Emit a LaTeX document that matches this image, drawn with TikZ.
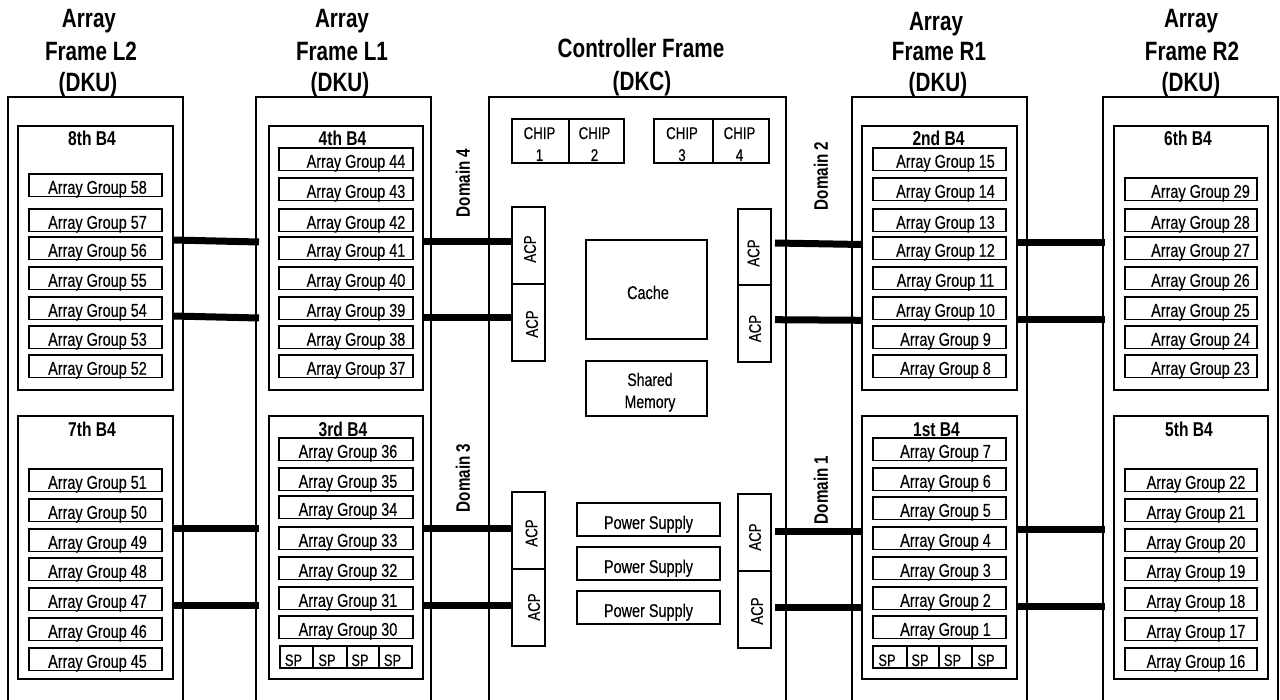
\documentclass[tikz,border=0pt]{standalone}
\usepackage{fontspec}
\setmainfont{Liberation Sans}[FakeStretch=0.78,UprightFeatures={FakeBold=0.35}]
\usetikzlibrary{calc}
\newcommand\fs[1]{\fontsize{#1}{#1}\selectfont}
\newcommand\bx[6]{\node[#6,minimum width={(#4)-(#2)},minimum height={(#5)-(#3)}] (#1) at ({((#2)+(#4))/2},{((#3)+(#5))/2})}
\newcommand\AG[5]{\bx{g#1}{#2}{#3}{#4}{(#3)+22.5}{ag}{\hspace*{#5pt}Array Group #1};}
\begin{document}
\begin{tikzpicture}[x=1pt,y=-1pt,line width=1.2pt,
  box/.style={draw,rectangle,inner sep=0pt,outer sep=0pt,line width=1.2pt},
  ag/.style={box,font=\fs{18.5},text height=17pt,text depth=0pt},
  spc/.style={box,font=\fs{16.5},text height=18pt,text depth=0pt},
  psb/.style={box,font=\fs{18.5},text height=19pt,text depth=0pt},
  bus/.style={line width=7pt},
  ttl/.style={font=\bfseries\fs{26.5},anchor=base,inner sep=0pt},
  b4l/.style={font=\bfseries\fs{20},anchor=base,inner sep=0pt},
  dom/.style={font=\bfseries\fs{19.5},rotate=90,inner sep=0pt},
  acpt/.style={font=\fs{17},rotate=90,inner sep=0pt},
  lbl/.style={font=\fs{18},anchor=base,inner sep=0pt},
  chipt/.style={font=\fs{17},anchor=base,inner sep=0pt}]
\useasboundingbox (0,0) rectangle (1280,700);
\fill[white] (0,0) rectangle (1280,700);
\clip (0,0) rectangle (1280,700);

% titles
\node[ttl] (tL2a) at (89,28) {Array};
\node[ttl] (tL2b) at (91,61) {Frame L2};
\node[ttl] (tL2c) at (88,92) {(DKU)};
\node[ttl] (tL1a) at (342,28) {Array};
\node[ttl] (tL1b) at (342,61) {Frame L1};
\node[ttl] (tL1c) at (340,92) {(DKU)};
\node[ttl] (tCa) at (641,58) {Controller Frame};
\node[ttl] (tCb) at (642,91) {(DKC)};
\node[ttl] (tR1a) at (936,31) {Array};
\node[ttl] (tR1b) at (939,61) {Frame R1};
\node[ttl] (tR1c) at (938,92) {(DKU)};
\node[ttl] (tR2a) at (1191,28) {Array};
\node[ttl] (tR2b) at (1192,61) {Frame R2};
\node[ttl] (tR2c) at (1191,92) {(DKU)};

% frames
\bx{fL2}{8}{97}{183}{720}{box}{};
\bx{fL1}{256}{97}{431}{720}{box}{};
\bx{fC}{489}{97}{786}{720}{box}{};
\bx{fR1}{852}{97}{1027}{720}{box}{};
\bx{fR2}{1103}{97}{1278}{720}{box}{};

% B4 boxes
\bx{b8}{18}{126}{173}{390}{box}{};
\bx{b7}{18}{416}{173}{679}{box}{};
\bx{b4}{269}{126}{423}{390}{box}{};
\bx{b3}{269}{416}{423}{679}{box}{};
\bx{b2}{862}{126}{1017}{390}{box}{};
\bx{b1}{862}{416}{1017}{679}{box}{};
\bx{b6}{1114}{126}{1268}{390}{box}{};
\bx{b5}{1114}{416}{1268}{679}{box}{};

\node[b4l] (l8) at (92,146) {8th B4};
\node[b4l] (l4) at (342.5,146) {4th B4};
\node[b4l] (l2) at (938.5,146) {2nd B4};
\node[b4l] (l6) at (1188,146) {6th B4};
\node[b4l] (l7) at (92,436) {7th B4};
\node[b4l] (l3) at (343,436) {3rd B4};
\node[b4l] (l1) at (936.5,436) {1st B4};
\node[b4l] (l5) at (1189,436) {5th B4};

% array groups
\foreach \n/\y in {58/174,57/209,56/237,55/267,54/297,53/326,52/355,
                   51/469,50/499,49/529,48/558,47/588,46/618,45/648}
  {\AG{\n}{29}{\y}{162}{4}}
\foreach \n/\y in {44/148,43/178,42/209,41/237,40/267,39/297,38/326,37/355}
  {\AG{\n}{279}{\y}{413}{20}}
\foreach \n/\y in {36/438,35/468,34/496,33/527,32/557,31/587,30/616}
  {\AG{\n}{279}{\y}{413}{4}}
\foreach \n/\y in {15/148,14/178,13/209,12/237,11/267,10/297,9/326,8/355,
                   7/438,6/468,5/497,4/527,3/557,2/587,1/616}
  {\AG{\n}{873}{\y}{1006}{12}}
\foreach \n/\y in {29/178,28/209,27/237,26/267,25/297,24/326,23/355}
  {\AG{\n}{1125}{\y}{1257}{19}}
\foreach \n/\y in {22/469,21/499,20/529,19/558,18/588,17/618,16/648}
  {\AG{\n}{1125}{\y}{1257}{10}}

% SP cells
\bx{spL1}{280}{646}{313}{668}{spc}{SP\hspace*{6pt}};
\bx{spL2}{313}{646}{347}{668}{spc}{SP\hspace*{6pt}};
\bx{spL3}{347}{646}{379}{668}{spc}{SP\hspace*{6pt}};
\bx{spL4}{379}{646}{412}{668}{spc}{SP\hspace*{6pt}};
\bx{spR1}{873}{646}{907}{668}{spc}{SP\hspace*{6pt}};
\bx{spR2}{907}{646}{939}{668}{spc}{SP\hspace*{6pt}};
\bx{spR3}{939}{646}{972}{668}{spc}{SP\hspace*{6pt}};
\bx{spR4}{972}{646}{1006}{668}{spc}{SP\hspace*{6pt}};

% chips
\bx{c1}{512}{119}{569}{163}{box}{};
\bx{c2}{569}{119}{624}{163}{box}{};
\bx{c3}{654}{119}{713}{163}{box}{};
\bx{c4}{713}{119}{769}{163}{box}{};
\node[chipt] (c1a) at (539.5,139) {CHIP};
\node[chipt] (c1b) at (539.5,161) {1};
\node[chipt] (c2a) at (594.5,139) {CHIP};
\node[chipt] (c2b) at (594.5,161) {2};
\node[chipt] (c3a) at (682,139) {CHIP};
\node[chipt] (c3b) at (682,161) {3};
\node[chipt] (c4a) at (739.5,139) {CHIP};
\node[chipt] (c4b) at (739.5,161) {4};

% ACPs
\bx{aL1}{512}{207}{545}{284}{box}{};
\bx{aL2}{512}{284}{545}{361}{box}{};
\bx{aR1}{738}{209}{771}{285}{box}{};
\bx{aR2}{738}{285}{771}{362}{box}{};
\bx{aL3}{512}{492}{545}{569}{box}{};
\bx{aL4}{512}{569}{545}{646}{box}{};
\bx{aR3}{738}{494}{771}{571}{box}{};
\bx{aR4}{738}{571}{771}{648}{box}{};
\node[acpt] (aL1t) at (530,249) {ACP};
\node[acpt] (aL2t) at (532,324) {ACP};
\node[acpt] (aR1t) at (753.5,253) {ACP};
\node[acpt] (aR2t) at (755,328.5) {ACP};
\node[acpt] (aL3t) at (531.5,533) {ACP};
\node[acpt] (aL4t) at (534,607) {ACP};
\node[acpt] (aR3t) at (755,537) {ACP};
\node[acpt] (aR4t) at (757,611) {ACP};

% cache, shared memory, power supplies
\bx{cache}{586}{240}{707}{339}{psb}{\hspace*{3pt}Cache};
\bx{shm}{586}{361}{707}{416}{box}{};
\node[lbl] (shm1) at (650,386) {Shared};
\node[lbl] (shm2) at (650,408) {Memory};
\bx{ps1}{577}{503}{720}{536}{psb}{Power Supply};
\bx{ps2}{577}{547}{720}{580}{psb}{Power Supply};
\bx{ps3}{577}{591}{720}{624}{psb}{Power Supply};

% domain labels
\node[dom] (d4) at (463,183) {Domain 4};
\node[dom] (d3) at (463,478) {Domain 3};
\node[dom] (d2) at (821,176) {Domain 2};
\node[dom] (d1) at (821,490) {Domain 1};

% buses
\draw[bus] (b8.east |- 0,240) -- ($(fL1.west |- 0,242)+(3,0)$);
\draw[bus] (b8.east |- 0,316) -- ($(fL1.west |- 0,318)+(3,0)$);
\draw[bus] (b4.east |- 0,242) -- (aL1.west |- 0,242);
\draw[bus] (b4.east |- 0,318) -- (aL2.west |- 0,318);
\draw[bus] ($(aR1.east |- 0,243)+(4,0)$) -- (b2.west |- 0,244.5);
\draw[bus] ($(aR2.east |- 0,319.7)+(4,0)$) -- (b2.west |- 0,320.3);
\draw[bus] (b2.east |- 0,242.3) -- ($(fR2.west |- 0,242.3)+(2,0)$);
\draw[bus] (b2.east |- 0,319.5) -- ($(fR2.west |- 0,319.5)+(2,0)$);
\draw[bus] (b7.east |- 0,528) -- ($(fL1.west |- 0,528)+(3,0)$);
\draw[bus] (b7.east |- 0,605) -- ($(fL1.west |- 0,605)+(3,0)$);
\draw[bus] (b3.east |- 0,528.3) -- (aL3.west |- 0,528.3);
\draw[bus] (b3.east |- 0,605) -- (aL4.west |- 0,605);
\draw[bus] ($(aR3.east |- 0,531)+(4,0)$) -- (b1.west |- 0,531);
\draw[bus] ($(aR4.east |- 0,607.5)+(4,0)$) -- (b1.west |- 0,607.5);
\draw[bus] (b1.east |- 0,529.5) -- ($(fR2.west |- 0,529.5)+(2,0)$);
\draw[bus] (b1.east |- 0,606.7) -- ($(fR2.west |- 0,606.7)+(2,0)$);
\end{tikzpicture}
\end{document}
